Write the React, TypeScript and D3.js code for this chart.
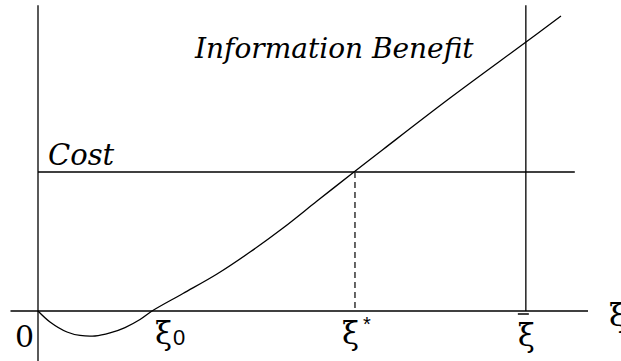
import React from "react";
import * as d3 from "d3";

const W = 621;
const H = 361;

// Information benefit curve (x in ξ units, y in cost units)
const benefitX = [0, 0.218, 0.527, 0.764, 1.036, 1.309, 1.582, 1.855, 2.073, 2.636, 3.255, 3.855, 4.455, 5.073, 5.745, 6.273, 7.491, 8.873, 9.509];
const benefitY = [0, -0.079, -0.151, -0.176, -0.18, -0.158, -0.119, -0.061, 0, 0.126, 0.266, 0.424, 0.597, 0.791, 1.0, 1.162, 1.532, 1.935, 2.122];

const costLevel = [1];
const costRange = [0, 9.76];
const xiZero = 2.073;
const xiStar = 5.745;
const xiBar = 8.87;
const xMax = 10;
const yTop = 2.2;
const yBottom = -0.36;

export default function App() {
  const x = d3.scaleLinear().domain([0, xMax]).range([38, 588]);
  const y = d3.scaleLinear().domain([0, 1]).range([311, 172]);

  const pts: [number, number][] = benefitX.map((v, i) => [v, benefitY[i]]);
  const line = d3
    .line<[number, number]>()
    .x((d) => x(d[0]))
    .y((d) => y(d[1]))
    .curve(d3.curveCatmullRom.alpha(0.5));

  const serif = '"DejaVu Serif", "Liberation Serif", "Noto Serif", serif';
  const sans = '"Liberation Sans", Arial, Helvetica, sans-serif';
  const stroke = "#000";

  return (
    <svg
      width={W}
      height={H}
      style={{ position: "absolute", left: 0, top: 0, background: "#fff" }}
    >
      <line x1={x(0)} x2={x(0)} y1={y(yTop)} y2={y(yBottom)} stroke={stroke} strokeWidth={1.3} />
      <line x1={x(-0.5)} x2={x(xMax)} y1={y(0)} y2={y(0)} stroke={stroke} strokeWidth={1.3} />
      <line x1={x(xiBar)} x2={x(xiBar)} y1={y(yTop)} y2={y(0)} stroke={stroke} strokeWidth={1.3} />
      <line x1={x(costRange[0])} x2={x(costRange[1])} y1={y(costLevel[0])} y2={y(costLevel[0])} stroke={stroke} strokeWidth={1.3} />
      <line x1={x(xiStar) + 1} x2={x(xiStar) + 1} y1={y(costLevel[0])} y2={y(0)} stroke="#333" strokeWidth={1.5} strokeDasharray="6,4" />
      <path d={line(pts) || ""} fill="none" stroke={stroke} strokeWidth={1.3} />

      <text x={195} y={58} fontFamily={serif} fontStyle="italic" fontSize={28}>Information Benefit</text>
      <text x={48} y={165} fontFamily={serif} fontStyle="italic" fontSize={29}>Cost</text>

      <text x={15} y={347} fontFamily={serif} fontSize={30}>0</text>

      <text x={x(xiZero) + 3} y={344} fontFamily={serif} fontSize={31}>
        ξ<tspan fontFamily={sans} fontSize={22} dy={1} dx={1}>0</tspan>
      </text>
      <text x={x(xiStar) - 12} y={344} fontFamily={serif} fontSize={31}>
        ξ<tspan fontFamily={sans} fontSize={20} dy={-13} dx={4}>*</tspan>
      </text>
      <text x={x(xiBar) - 8} y={346} fontFamily={serif} fontSize={31}>ξ</text>
      <line x1={x(xiBar) - 8} x2={x(xiBar) + 3} y1={314} y2={314} stroke={stroke} strokeWidth={1.5} />
      <text x={609} y={326} fontFamily={serif} fontSize={31}>ξ</text>
    </svg>
  );
}
